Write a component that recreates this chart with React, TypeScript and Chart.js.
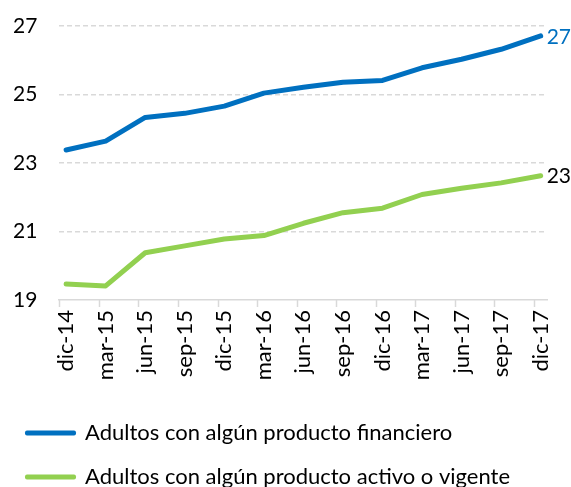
import React, { useEffect, useRef } from "react";
import { Chart, registerables } from "chart.js";

Chart.register(...registerables);

const categories = ["dic-14", "mar-15", "jun-15", "sep-15", "dic-15", "mar-16", "jun-16", "sep-16", "dic-16", "mar-17", "jun-17", "sep-17", "dic-17"];
const financiero = [23.38, 23.64, 24.33, 24.45, 24.66, 25.04, 25.21, 25.36, 25.41, 25.78, 26.03, 26.32, 26.71];
const activo = [19.47, 19.41, 20.38, 20.58, 20.78, 20.88, 21.24, 21.55, 21.68, 22.08, 22.26, 22.42, 22.63];
const seriesNames = ["Adultos con algún producto financiero", "Adultos con algún producto activo o vigente"];
const endLabels = ["27", "23"];
const yTicks = [19, 21, 23, 25, 27];

const BLUE = "#0070C0";
const GREEN = "#92D050";
const GRID = "#d9d9d9";
const FONT = "Lato";

const tickMarks = {
  id: "tickMarks",
  afterDraw(chart: any) {
    const x = chart.scales.x;
    const ctx = chart.ctx;
    ctx.save();
    ctx.strokeStyle = GRID;
    ctx.lineWidth = 1.5;
    categories.forEach((_, i) => {
      const px = Math.round(x.getPixelForValue(i - 0.17)) + 0.5;
      ctx.beginPath();
      ctx.moveTo(px, x.top);
      ctx.lineTo(px, x.top + 7);
      ctx.stroke();
    });
    ctx.restore();
  },
};

const endLabelPlugin = {
  id: "endLabels",
  afterDatasetsDraw(chart: any) {
    const ctx = chart.ctx;
    ctx.save();
    ctx.font = `21px ${FONT}`;
    ctx.textAlign = "left";
    ctx.textBaseline = "middle";
    chart.data.datasets.forEach((ds: any, i: number) => {
      const meta = chart.getDatasetMeta(i);
      const pt = meta.data[meta.data.length - 1];
      ctx.fillStyle = i === 0 ? BLUE : "#000";
      ctx.fillText(endLabels[i], pt.x + 6, pt.y + 1);
    });
    ctx.restore();
  },
};

const legendShift = {
  id: "legendShift",
  afterLayout(chart: any) {
    if (chart.legend) {
      chart.legend.left = 5;
    }
  },
};

export default function App() {
  const ref = useRef<HTMLCanvasElement>(null);
  useEffect(() => {
    if (!ref.current) return;
    const chart = new Chart(ref.current, {
      type: "line",
      data: {
        datasets: [
          {
            label: seriesNames[0],
            data: financiero.map((v, i) => ({ x: i, y: v })),
            borderColor: BLUE,
            backgroundColor: BLUE,
            borderWidth: 5,
            pointRadius: 0,
            tension: 0,
            borderJoinStyle: "round",
            borderCapStyle: "round",
          },
          {
            label: seriesNames[1],
            data: activo.map((v, i) => ({ x: i, y: v })),
            borderColor: GREEN,
            backgroundColor: GREEN,
            borderWidth: 5,
            pointRadius: 0,
            tension: 0,
            borderJoinStyle: "round",
            borderCapStyle: "round",
          },
        ],
      },
      options: {
        animation: false,
        responsive: true,
        maintainAspectRatio: false,
        layout: { padding: { top: 26, right: 24, left: 13, bottom: 0 } },
        plugins: {
          tooltip: { enabled: false },
          legend: {
            position: "bottom",
            align: "start",
            labels: {
              font: { family: FONT, size: 22 },
              color: "#000",
              boxWidth: 47,
              boxHeight: 1,
              padding: 22,
              generateLabels: (c: any) =>
                c.data.datasets.map((ds: any, i: number) => ({
                  text: ds.label,
                  fillStyle: ds.borderColor,
                  strokeStyle: ds.borderColor,
                  lineWidth: 4,
                  lineJoin: "round",
                  lineCap: "round",
                  datasetIndex: i,
                  hidden: false,
                  fontColor: "#000",
                })),
            },
          },
        },
        scales: {
          x: {
            type: "linear",
            min: -0.18,
            max: 12.16,
            afterBuildTicks: (s: any) => {
              s.ticks = categories.map((_, i) => ({ value: i }));
            },
            afterFit: (s: any) => {
              s.height = 100;
            },
            ticks: {
              autoSkip: false,
              minRotation: 90,
              maxRotation: 90,
              padding: 0,
              color: "#000",
              font: { family: FONT, size: 22 },
              callback: (v: any) => categories[Math.round(v)],
            },
            grid: {
              display: true,
              drawOnChartArea: false,
              drawTicks: true,
              tickLength: 10,
              tickColor: "rgba(0,0,0,0)",
              color: "rgba(0,0,0,0)",
            },
            border: { display: true, color: GRID, width: 1.5 },
          },
          y: {
            min: 19,
            max: 27,
            afterBuildTicks: (s: any) => {
              s.ticks = yTicks.map((v) => ({ value: v }));
            },
            afterFit: (s: any) => {
              s.width = 46;
            },
            ticks: {
              padding: 0,
              crossAlign: "far",
              color: "#000",
              font: { family: FONT, size: 21 },
            },
            grid: {
              drawTicks: false,
              color: (c: any) => (c.tick && c.tick.value === 19 ? "rgba(0,0,0,0)" : GRID),
              lineWidth: 1.5,
            },
            border: { display: false, dash: [5, 3] },
          },
        },
      },
      plugins: [tickMarks, endLabelPlugin, legendShift],
    });
    return () => chart.destroy();
  }, []);
  return (
    <div style={{ position: "fixed", left: 0, top: 0, width: 571, height: 498 }}>
      <canvas ref={ref} />
    </div>
  );
}
